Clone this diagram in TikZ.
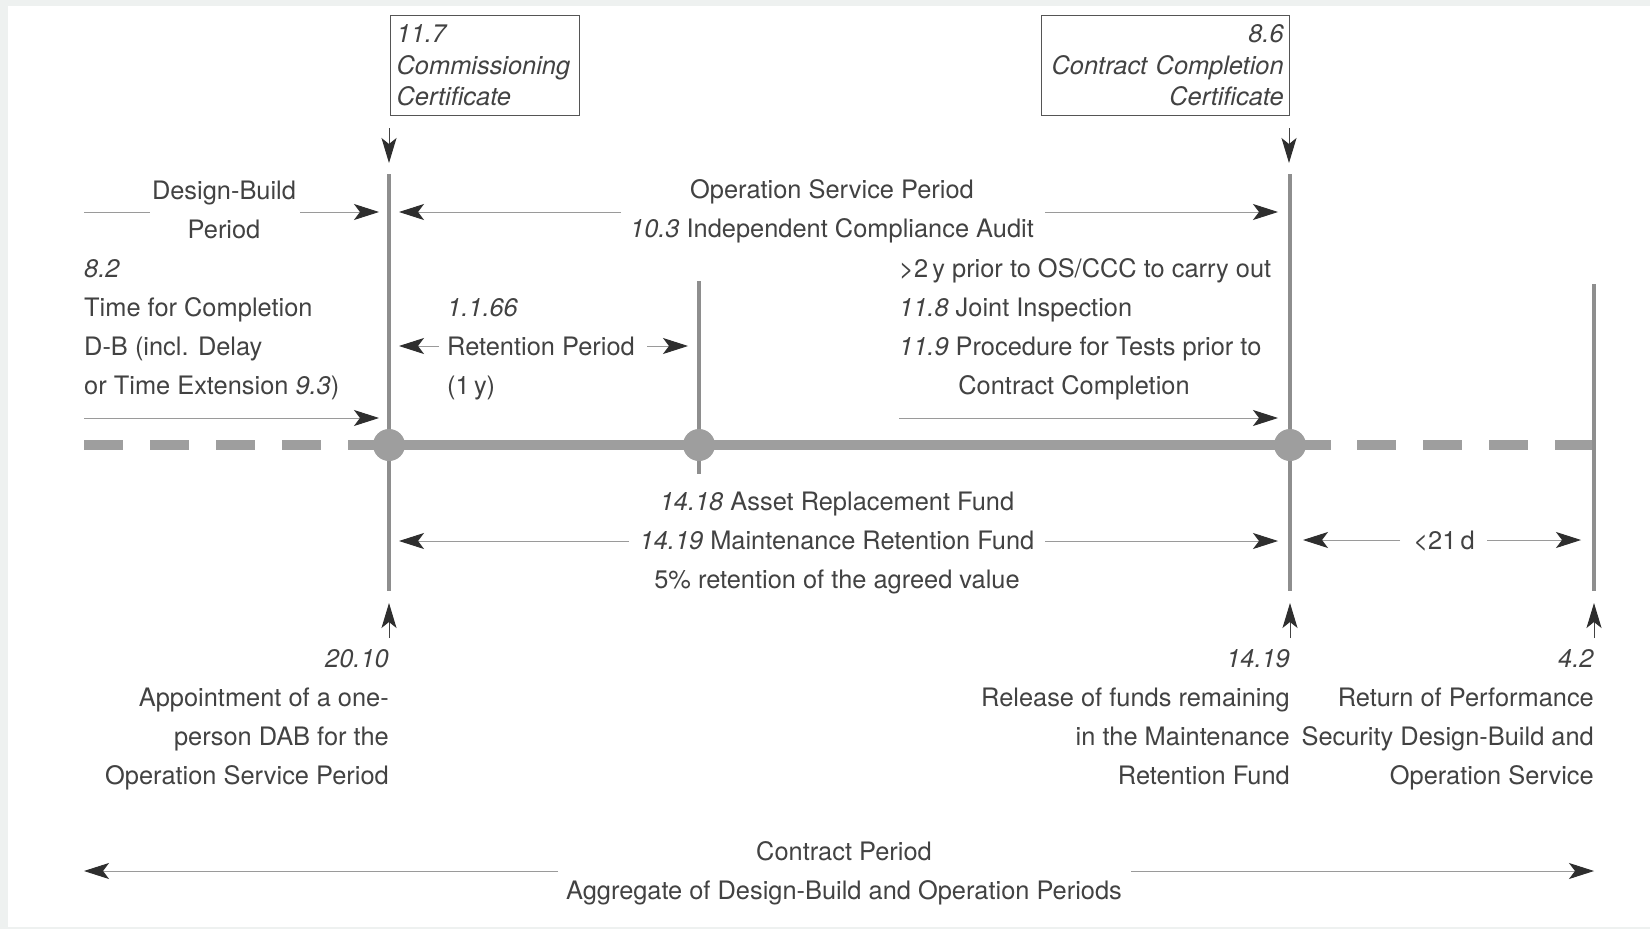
\documentclass[tikz,border=0pt]{standalone}
\usepackage{fontspec}
\setmainfont{TeX Gyre Heros}
\usetikzlibrary{arrows.meta}
\definecolor{ink}{HTML}{424242}
\definecolor{headc}{HTML}{2E2E2E}
\definecolor{rulec}{HTML}{9E9E9E}
\definecolor{postc}{HTML}{8E8E8E}
\definecolor{shaftc}{HTML}{9A9A9A}
\definecolor{framec}{HTML}{EEF1F0}
\definecolor{boxc}{HTML}{555555}
\begin{document}
\begin{tikzpicture}[x=1pt,y=-1pt,
  txt/.style={font=\fontsize{25.4}{39}\selectfont, text=ink, inner sep=0pt},
  lblL/.style={txt, anchor=north west, align=left},
  lblR/.style={txt, anchor=north east, align=right},
  lblC/.style={txt, anchor=north, align=center},
  certbox/.style={draw=boxc, line width=1.3pt, anchor=north west,
    minimum height=100pt, inner xsep=6pt, inner ysep=0pt, text=ink,
    font=\fontsize{25.4}{31.5}\selectfont\itshape},
  arr/.style={draw=shaftc, line width=0.9pt,
    -{Stealth[length=25pt,width=16pt,inset=6pt,color=headc,fill=headc]}},
  plain/.style={draw=shaftc, line width=0.9pt},
  pointer/.style={draw=ink, line width=1pt,
    -{Stealth[length=25pt,width=15pt,inset=6pt,color=headc,fill=headc]}},
  post/.style={draw=postc, line width=4pt},
  band/.style={draw=rulec, line width=10pt},
  dashband/.style={band, dash pattern=on 39pt off 27pt},
  knot/.style={fill=rulec}
]
% page frame
\fill[framec] (0,0) rectangle (1650,929);
\fill[white] (8,6) rectangle (1650,927);
\useasboundingbox (0,0) rectangle (1650,929);

% key points on the time axis
\coordinate (start) at (84,445);
\coordinate (dbEnd) at (350,445);
\coordinate (comm) at (389,445);
\coordinate (ret) at (699,445);
\coordinate (ccc) at (1290,445);
\coordinate (osEnd) at (1331,445);
\coordinate (tailStart) at (1357,445);
\coordinate (final) at (1594,445);

% time axis
\draw[dashband] (start) -- (dbEnd);
\draw[band] (dbEnd) -- (osEnd);
\draw[dashband] (tailStart) -- (final);

% vertical posts
\coordinate (p1t) at (389,174); \coordinate (p1b) at (389,591);
\coordinate (p2t) at (699,281); \coordinate (p2b) at (699,474);
\coordinate (p3t) at (1290,174); \coordinate (p3b) at (1290,591);
\coordinate (p4t) at (1594,284); \coordinate (p4b) at (1594,591);
\draw[post] (p1t) -- (p1b);
\draw[post] (p2t) -- (p2b);
\draw[post] (p3t) -- (p3b);
\draw[post] (p4t) -- (p4b);
\fill[knot] (comm) circle (16pt);
\fill[knot] (ret) circle (16pt);
\fill[knot] (ccc) circle (16pt);

% certificates
\node[certbox, text width=177pt, align=left] (cert1) at (390,15)
  {11.7\\Commissioning\\Certificate};
\node[certbox, text width=236pt, align=right] (cert2) at (1041,15)
  {8.6\\Contract Completion\\Certificate};
\coordinate (c1a) at (389,128); \coordinate (c1b) at (389,163);
\coordinate (c2a) at (1289,128); \coordinate (c2b) at (1289,163);
\draw[pointer] (c1a) -- (c1b);
\draw[pointer] (c2a) -- (c2b);

% design-build period
\node[lblC] (dbp) at (224,181) {Design-Build\\Period};
\coordinate (db1) at (84,212); \coordinate (db2) at (150,212);
\coordinate (db3) at (300,212); \coordinate (db4) at (379,212);
\draw[plain] (db1) -- (db2);
\draw[arr] (db3) -- (db4);

% operation service period
\node[lblC] (osp) at (832,179)
  {Operation Service Period\\\textit{10.3} Independent Compliance Audit};
\coordinate (os1) at (621,212); \coordinate (os2) at (399,212);
\coordinate (os3) at (1045,212); \coordinate (os4) at (1278,212);
\draw[arr] (os1) -- (os2);
\draw[arr] (os3) -- (os4);

% time for completion
\node[lblL] (tfc) at (84,259)
  {\textit{8.2}\\Time for Completion\\D-B (incl. Delay\\or Time Extension \textit{9.3})};
\coordinate (tf1) at (84,418); \coordinate (tf2) at (379,418);
\draw[arr] (tf1) -- (tf2);

% retention period
\node[lblL] (retp) at (447,298) {\textit{1.1.66}\\Retention Period\\(1\,y)};
\coordinate (rp1) at (439,346); \coordinate (rp2) at (399,346);
\coordinate (rp3) at (647,346); \coordinate (rp4) at (688,346);
\draw[arr] (rp1) -- (rp2);
\draw[arr] (rp3) -- (rp4);

% inspection before contract completion
\node[lblL] (insp) at (899,258)
  {>2\,y prior to OS/CCC to carry out\\\textit{11.8} Joint Inspection\\\textit{11.9} Procedure for Tests prior to};
\node[lblC] (inspEnd) at (1074,375) {Contract Completion};
\coordinate (in1) at (899,418); \coordinate (in2) at (1278,418);
\draw[arr] (in1) -- (in2);

% funds
\node[lblC] (funds) at (837,492)
  {\textit{14.18} Asset Replacement Fund\\\textit{14.19} Maintenance Retention Fund\\5\% retention of the agreed value};
\coordinate (fu1) at (629,541); \coordinate (fu2) at (399,541);
\coordinate (fu3) at (1045,541); \coordinate (fu4) at (1278,541);
\draw[arr] (fu1) -- (fu2);
\draw[arr] (fu3) -- (fu4);

% return window
\node[lblC] (d21) at (1444,531) {<21\,d};
\coordinate (dd1) at (1400,540); \coordinate (dd2) at (1303,540);
\coordinate (dd3) at (1487,540); \coordinate (dd4) at (1581,540);
\draw[arr] (dd1) -- (dd2);
\draw[arr] (dd3) -- (dd4);

% events below the axis
\coordinate (u1a) at (389,638); \coordinate (u1b) at (389,603);
\coordinate (u2a) at (1290,638); \coordinate (u2b) at (1290,603);
\coordinate (u3a) at (1594,638); \coordinate (u3b) at (1594,603);
\draw[pointer] (u1a) -- (u1b);
\draw[pointer] (u2a) -- (u2b);
\draw[pointer] (u3a) -- (u3b);
\node[lblR] (dab) at (389,649)
  {\textit{20.10}\\Appointment of a one-\\person DAB for the\\Operation Service Period};
\node[lblR] (release) at (1290,649)
  {\textit{14.19}\\Release of funds remaining\\in the Maintenance\\Retention Fund};
\node[lblR] (perf) at (1594,649)
  {\textit{4.2}\\Return of Performance\\Security Design-Build and\\Operation Service};

% contract period
\node[lblC] (cp) at (844,841)
  {Contract Period\\Aggregate of Design-Build and Operation Periods};
\coordinate (cp1) at (558,871); \coordinate (cp2) at (84,871);
\coordinate (cp3) at (1131,871); \coordinate (cp4) at (1594,871);
\draw[arr] (cp1) -- (cp2);
\draw[arr] (cp3) -- (cp4);
\end{tikzpicture}
\end{document}
